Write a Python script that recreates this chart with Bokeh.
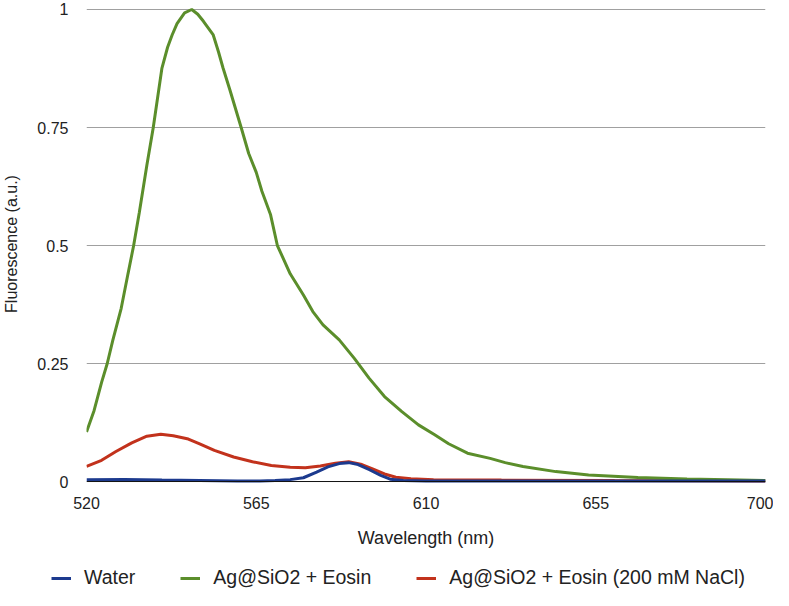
from bokeh.plotting import figure
from bokeh.layouts import column
from bokeh.models import Range1d, Span, Legend, LegendItem, FixedTicker
from bokeh.embed import file_html
from bokeh.resources import INLINE

# ---- data ----
green_nm = [520, 522, 524, 525.5, 527, 529.2, 531, 532.5, 534, 536, 537.7, 540, 541.5,
            542.7, 544, 546, 547.9, 549.5, 551, 553.6, 555, 556.2, 558, 561, 563, 565,
            566.5, 568.8, 570.6, 574, 577.5, 580, 582.7, 587, 591, 594.9, 599, 603.6,
            608, 612.3, 616, 621, 627, 631, 635.7, 644.4, 653.1, 666.2, 679.2, 690, 700]
green_val = [0.105, 0.15, 0.21, 0.25, 0.30, 0.367, 0.44, 0.50, 0.57, 0.67, 0.75, 0.876, 0.92,
             0.946, 0.97, 0.993, 1.0, 0.99, 0.975, 0.946, 0.91, 0.876, 0.83, 0.75, 0.695, 0.655,
             0.615, 0.565, 0.50, 0.44, 0.395, 0.36, 0.332, 0.30, 0.261, 0.219, 0.18, 0.148,
             0.12, 0.099, 0.08, 0.060, 0.049, 0.04, 0.032, 0.021, 0.014, 0.0085, 0.0056, 0.004, 0.002]

red_nm = [520, 524, 527.8, 532, 536, 539.7, 543, 547, 550, 553.9, 559, 564, 569, 574,
          578, 582, 586, 589.5, 593, 596, 599, 602, 606, 612, 630, 660, 700]
red_val = [0.032, 0.045, 0.0635, 0.082, 0.096, 0.100, 0.097, 0.09, 0.08, 0.066, 0.052, 0.042,
           0.034, 0.030, 0.029, 0.033, 0.039, 0.042, 0.036, 0.026, 0.016, 0.009, 0.006, 0.004,
           0.003, 0.002, 0.001]

water_nm = [520, 530, 540, 550, 560, 566, 570, 574, 577.5, 581, 584, 587, 589.5, 592,
            595, 598, 600.5, 604, 610, 700]
water_val = [0.004, 0.0045, 0.003, 0.002, 0.001, 0.001, 0.002, 0.004, 0.008, 0.02, 0.031,
             0.038, 0.040, 0.036, 0.025, 0.013, 0.005, 0.002, 0.001, 0.001]

series_names = ["Water", "Ag@SiO2 + Eosin", "Ag@SiO2 + Eosin (200 mM NaCl)"]
series_colors = ["#1c3a8e", "#5b8e2b", "#c2321c"]
series_x = [water_nm, green_nm, red_nm]
series_y = [water_val, green_val, red_val]

x_ticks = [520, 565, 610, 655, 700]
x_tick_labels = ["520", "565", "610", "655", "700"]
y_ticks = [0, 0.25, 0.5, 0.75, 1]
y_tick_labels = ["0", "0.25", "0.5", "0.75", "1"]

FONT = "Liberation Sans"

p = figure(width=773, height=550, output_backend="svg", toolbar_location=None,
           x_range=Range1d(520, 700), y_range=Range1d(-0.0063, 1.0127),
           min_border_left=75, min_border_right=8, min_border_top=3, min_border_bottom=65)
p.frame_align = False
p.outline_line_color = None
p.background_fill_color = "white"

# grid
p.xgrid.grid_line_color = None
p.ygrid.ticker = FixedTicker(ticks=y_ticks[1:])
p.ygrid.grid_line_color = "#a0a0a0"
p.ygrid.grid_line_width = 1

# axes
p.xaxis.ticker = FixedTicker(ticks=x_ticks)
p.xaxis.major_label_overrides = dict(zip(x_ticks, x_tick_labels))
p.yaxis.ticker = FixedTicker(ticks=y_ticks)
p.yaxis.major_label_overrides = dict(zip(y_ticks, y_tick_labels))
for ax in (p.xaxis[0], p.yaxis[0]):
    ax.axis_line_color = None
    ax.major_tick_line_color = None
    ax.minor_tick_line_color = None
    ax.major_label_text_font = FONT
    ax.major_label_text_font_size = "16px"
    ax.major_label_text_color = "#222222"
    ax.axis_label_text_font = FONT
    ax.axis_label_text_font_style = "normal"
    ax.axis_label_text_color = "#222222"
p.xaxis.axis_label_text_font_size = "18px"
p.yaxis.axis_label_text_font_size = "16px"
p.xaxis.major_label_standoff = 6
p.yaxis.major_label_standoff = 12
p.xaxis.axis_label = "Wavelength (nm)"
p.xaxis.axis_label_standoff = 16
p.yaxis.axis_label = "Fluorescence (a.u.)"
p.yaxis.axis_label_standoff = 14

p.add_layout(Span(location=0, dimension="width", line_color="#111111", line_width=1))

# draw order: red, green, then water on top
for i in (2, 1, 0):
    p.line(series_x[i], series_y[i], line_color=series_colors[i], line_width=3)

# ---- legend strip below the chart (its lines lie outside its own view) ----
leg = figure(width=773, height=40, output_backend="svg", toolbar_location=None,
             x_axis_type=None, y_axis_type=None, min_border=0,
             x_range=Range1d(0, 1), y_range=Range1d(0, 1))
leg.frame_align = False
leg.outline_line_color = None
leg.xgrid.grid_line_color = None
leg.ygrid.grid_line_color = None
legend_renderers = [leg.line(x, y, line_color=c, line_width=3)
                    for x, y, c in zip(series_x, series_y, series_colors)]

legend = Legend(items=[LegendItem(label=n, renderers=[r])
                       for n, r in zip(series_names, legend_renderers)],
                orientation="horizontal", location=(51, 1),
                label_text_font=FONT, label_text_font_size="19.5px", label_text_color="#222222",
                glyph_width=20, glyph_height=20, label_standoff=13, spacing=45,
                padding=0, margin=0, border_line_color=None, background_fill_alpha=0)
leg.add_layout(legend, "center")

open("out.html", "w").write(file_html(column(p, leg, spacing=0), INLINE))
